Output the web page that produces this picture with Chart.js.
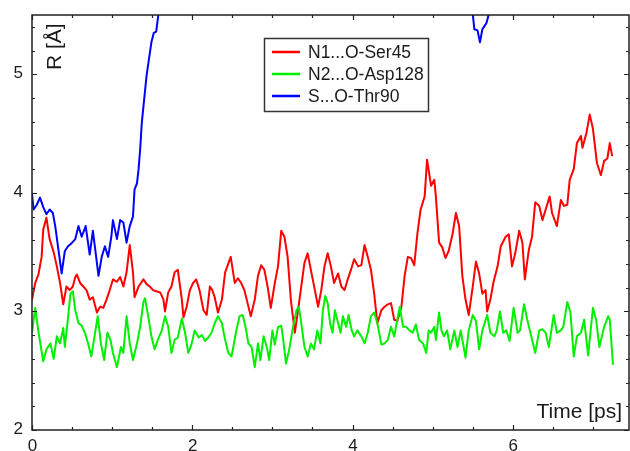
<!DOCTYPE html>
<html>
<head>
<meta charset="utf-8">
<script src="https://cdn.jsdelivr.net/npm/chart.js@4/dist/chart.umd.min.js"></script>
<style>
html,body{margin:0;padding:0;background:#fff;overflow:hidden;}
#wrap{width:630px;height:451px;position:relative;}
</style>
</head>
<body>
<div id="wrap"><canvas id="c" width="630" height="451"></canvas></div>
<script>
// ---------- data ----------
const seriesLabels = ['N1...O-Ser45', 'N2...O-Asp128', 'S...O-Thr90'];
const seriesColors = ['#ff0000', '#00f000', '#0000ff'];

const xMajorTicks = [0, 2, 4, 6];
const yMajorTicks = [2, 3, 4, 5];
const xTitle = 'Time [ps]';
const yTitle = 'R [Å]';

const redTime = [
 0.00,0.04,0.08,0.12,0.14,0.18,0.22,0.27,0.31,0.35,
 0.39,0.43,0.47,0.51,0.54,0.56,0.60,0.64,0.68,0.72,
 0.76,0.81,0.85,0.89,0.93,0.97,1.01,1.06,1.10,1.14,
 1.18,1.22,1.26,1.28,1.33,1.39,1.43,1.47,1.51,1.55,
 1.60,1.64,1.66,1.70,1.74,1.78,1.82,1.87,1.89,1.93,
 1.97,2.01,2.05,2.09,2.14,2.18,2.22,2.25,2.28,2.32,
 2.37,2.41,
 2.48,2.53,2.57,2.61,2.65,2.69,2.73,2.78,2.82,2.86,
 2.90,2.94,2.98,3.03,3.07,3.11,3.15,3.19,3.23,3.28,
 3.32,3.36,3.40,3.44,3.48,3.53,3.57,3.61,3.65,3.69,
 3.73,3.77,3.82,3.86,3.90,3.94,3.98,4.02,4.07,4.11,
 4.15,4.19,4.23,4.27,4.31,4.36,4.40,4.44,4.48,4.52,
 4.56,4.61,4.65,4.69,4.73,4.77,4.81,4.85,4.90,
 4.93,4.98,5.02,5.04,5.08,5.12,5.16,5.20,5.25,5.29,
 5.33,5.37,5.41,5.45,5.50,5.54,5.58,5.62,5.66,5.68,
 5.72,5.76,5.81,5.85,5.91,5.95,5.99,6.03,6.08,6.12,
 6.15,6.20,6.24,6.28,6.33,6.37,6.41,6.46,6.49,6.55,
 6.60,6.64,6.68,6.71,6.76,6.80,6.85,6.87,6.92,6.96,
 7.00,7.05,7.10,7.14,7.18,7.21,7.24
];
const redR = [
 3.10,3.24,3.31,3.46,3.69,3.79,3.61,3.50,3.38,3.24,
 3.06,3.21,3.18,3.21,3.29,3.31,3.24,3.21,3.18,3.10,
 3.12,2.99,3.04,3.03,3.10,3.18,3.27,3.25,3.29,3.21,
 3.33,3.56,3.33,3.12,3.21,3.27,3.23,3.21,3.18,3.17,
 3.16,3.10,3.00,3.16,3.21,3.33,3.35,3.10,2.95,3.04,
 3.18,3.24,3.27,3.18,3.01,2.97,3.21,3.18,3.12,2.99,
 3.10,3.33,
 3.46,3.24,3.28,3.24,3.18,3.07,2.96,3.10,3.30,3.39,
 3.35,3.21,3.03,3.24,3.38,3.68,3.63,3.46,3.10,2.82,
 3.01,3.21,3.41,3.49,3.35,3.18,3.04,3.18,3.38,3.49,
 3.38,3.24,3.32,3.21,3.18,3.27,3.35,3.44,3.38,3.39,
 3.56,3.46,3.35,3.15,2.90,3.01,3.04,3.06,3.07,2.93,
 2.92,3.04,3.30,3.46,3.45,3.39,3.66,3.86,3.97,
 4.28,4.06,4.11,3.97,3.58,3.54,3.45,3.51,3.66,3.83,
 3.72,3.30,3.10,2.97,3.21,3.42,3.32,3.15,3.18,3.00,
 3.10,3.25,3.38,3.55,3.63,3.65,3.38,3.49,3.68,3.58,
 3.27,3.52,3.63,3.92,3.89,3.77,3.86,3.97,3.83,3.72,
 3.94,3.89,3.90,4.11,4.20,4.42,4.48,4.38,4.51,4.66,
 4.54,4.25,4.15,4.27,4.29,4.42,4.31
];

const greenTime = [
 0.00,0.04,0.08,0.14,0.18,0.23,0.27,0.31,0.35,0.39,
 0.41,0.45,0.48,0.51,0.54,0.58,0.62,0.66,0.70,0.74,
 0.78,0.82,0.86,0.90,0.94,0.98,1.01,1.06,1.11,1.14,
 1.18,1.22,1.26,1.31,1.35,1.39,1.41,1.45,1.49,1.53,
 1.57,1.62,1.66,1.70,1.74,1.78,1.82,1.87,1.91,1.95,
 1.99,2.03,2.08,2.12,2.16,2.20,2.24,2.28,2.32,2.37,
 2.41,2.45,
 2.49,2.55,2.59,2.63,2.67,2.70,2.74,2.78,2.82,2.85,
 2.89,2.93,2.96,3.00,3.03,3.07,3.11,3.13,3.17,3.21,
 3.25,3.30,3.33,3.36,3.40,3.44,3.48,3.52,3.56,3.60,
 3.63,3.66,3.69,3.72,3.75,3.78,3.82,3.85,3.88,3.92,
 3.95,3.99,4.02,4.06,4.11,4.15,4.19,4.23,4.27,4.31,
 4.36,4.40,4.44,4.48,4.52,4.55,4.59,4.63,4.67,4.71,
 4.75,4.79,4.83,4.88,4.92,
 4.95,4.98,5.02,5.04,5.08,5.11,5.14,5.18,5.22,5.27,
 5.31,5.35,5.41,5.45,5.50,5.54,5.58,5.62,5.68,5.72,
 5.77,5.80,5.84,5.88,5.92,5.96,6.01,6.06,6.09,6.14,
 6.18,6.22,6.28,6.33,6.37,6.41,6.45,6.51,6.55,6.60,
 6.63,6.68,6.72,6.76,6.80,6.85,6.89,6.94,7.00,7.04,
 7.08,7.14,7.19,7.21,7.25
];
const greenR = [
 2.82,3.03,2.83,2.58,2.68,2.73,2.60,2.79,2.73,2.86,
 2.70,2.95,3.15,3.17,3.01,2.90,2.88,2.82,2.73,2.62,
 2.79,2.96,2.73,2.59,2.82,2.76,2.65,2.53,2.70,2.65,
 2.96,2.73,2.59,2.73,2.87,3.08,3.11,2.96,2.79,2.68,
 2.76,2.84,2.96,2.87,2.65,2.76,2.78,2.94,2.82,2.65,
 2.72,2.84,2.78,2.80,2.75,2.78,2.82,2.90,2.96,2.90,
 2.76,2.65,
 2.62,2.84,2.96,2.97,2.85,2.73,2.70,2.53,2.73,2.59,
 2.79,2.70,2.59,2.84,2.72,2.87,2.88,2.79,2.56,2.68,
 2.84,3.01,3.04,2.90,2.70,2.62,2.73,2.68,2.84,2.73,
 3.01,3.13,3.07,2.90,2.82,3.01,2.90,2.82,2.96,2.87,
 2.97,2.84,2.79,2.84,2.79,2.73,2.82,2.96,2.99,2.90,
 2.72,2.73,2.76,2.87,2.79,2.90,3.04,2.87,2.87,2.84,
 2.82,2.89,2.76,2.73,2.65,
 2.84,2.82,2.87,2.76,2.99,2.84,2.79,2.84,2.68,2.84,
 2.70,2.84,2.61,2.84,2.97,2.92,2.68,2.84,2.97,2.82,
 2.79,2.84,3.00,2.82,2.84,2.75,3.03,2.82,2.84,3.06,
 2.93,2.82,2.65,2.84,2.85,2.82,2.70,2.97,2.82,2.84,
 2.87,3.08,2.99,2.62,2.79,2.82,2.93,2.63,3.03,2.93,
 2.70,2.87,2.96,2.93,2.55
];

const blueTime = [
 0.00,0.02,0.06,0.10,0.14,0.18,0.22,0.26,0.29,0.33,
 0.37,0.41,0.45,0.50,0.54,0.58,0.62,0.67,0.72,0.76,
 0.83,0.87,0.91,0.95,0.99,1.01,1.06,1.10,1.14,1.18,
 1.22,1.26,1.28,1.31,1.33,1.35,1.37,1.43,1.49,1.52,
 1.55,1.58,1.62,
 3.50,
 5.47,5.50,5.52,5.56,5.59,5.62,5.65,5.67,5.69,5.71,5.74
];
const blueR = [
 3.99,3.86,3.90,3.96,3.88,3.82,3.86,3.83,3.72,3.52,
 3.32,3.51,3.55,3.58,3.61,3.72,3.63,3.72,3.48,3.68,
 3.30,3.46,3.55,3.46,3.63,3.77,3.61,3.77,3.75,3.58,
 3.72,3.80,4.03,4.08,4.20,4.37,4.59,4.99,5.27,5.35,
 5.36,5.52,5.75,
 null,
 5.80,5.51,5.38,5.37,5.27,5.38,5.41,5.43,5.48,5.53,5.80
];

// ---------- helpers ----------
function toPoints(ts, rs) { return ts.map((t, i) => ({ x: t, y: rs[i] })); }

const FONT = '"Liberation Sans", Arial, Helvetica, sans-serif';
const AXIS_COLOR = '#222';
const TEXT_COLOR = '#1a1a1a';

const framePlugin = {
  id: 'frame',
  afterDraw(chart) {
    const { ctx, chartArea: a, scales } = chart;
    const xs = scales.x, ys = scales.y;
    ctx.save();
    // frame
    ctx.strokeStyle = AXIS_COLOR;
    ctx.lineWidth = 1.5;
    ctx.strokeRect(a.left, a.top, a.right - a.left, a.bottom - a.top);
    // x ticks (minor every 0.5, major every 2), bottom + top, pointing inward
    ctx.lineWidth = 1.2;
    ctx.beginPath();
    for (let i = 0; i * 0.5 <= xs.max + 1e-9; i++) {
      const v = i * 0.5;
      const px = Math.round(xs.getPixelForValue(v)) + 0.5;
      const len = (i % 4 === 0) ? 5 : 3;
      ctx.moveTo(px, a.bottom); ctx.lineTo(px, a.bottom - len);
      ctx.moveTo(px, a.top); ctx.lineTo(px, a.top + len);
    }
    // y ticks (minor every 0.2, major every 1), left + right
    for (let i = 0; ys.min + i * 0.2 <= ys.max + 1e-9; i++) {
      const v = ys.min + i * 0.2;
      const py = Math.round(ys.getPixelForValue(v)) + 0.5;
      const len = (i % 5 === 0) ? 5 : 3;
      ctx.moveTo(a.left, py); ctx.lineTo(a.left + len, py);
      ctx.moveTo(a.right, py); ctx.lineTo(a.right - len, py);
    }
    ctx.stroke();

    // tick labels
    ctx.fillStyle = TEXT_COLOR;
    ctx.font = '17px ' + FONT;
    ctx.textAlign = 'right';
    ctx.textBaseline = 'middle';
    yMajorTicks.forEach(v => {
      ctx.fillText(String(v), a.left - 9, ys.getPixelForValue(v) - 1);
    });
    ctx.textAlign = 'center';
    ctx.textBaseline = 'top';
    xMajorTicks.forEach(v => {
      ctx.fillText(String(v), xs.getPixelForValue(v) + 0.5, a.bottom + 8);
    });

    // axis titles (inside the plot)
    ctx.font = '21px ' + FONT;
    ctx.textAlign = 'right';
    ctx.textBaseline = 'alphabetic';
    ctx.fillText(xTitle, a.right - 7, a.bottom - 12);
    ctx.save();
    ctx.translate(a.left + 29, a.top + 55);
    ctx.rotate(-Math.PI / 2);
    ctx.textAlign = 'left';
    ctx.fillText(yTitle, 0, 0);
    ctx.restore();

    // legend box
    const lx = 264, ly = 38, lw = 164, lh = 73;
    ctx.fillStyle = '#fff';
    ctx.fillRect(lx, ly, lw, lh);
    ctx.strokeStyle = '#333';
    ctx.lineWidth = 1.5;
    ctx.strokeRect(lx + 0.5, ly + 0.5, lw, lh);
    ctx.font = '17.5px ' + FONT;
    ctx.textAlign = 'left';
    ctx.textBaseline = 'middle';
    chart.data.datasets.forEach((ds, i) => {
      const y = ly + 14 + i * 22;
      ctx.strokeStyle = ds.borderColor;
      ctx.lineWidth = 2.5;
      ctx.beginPath();
      ctx.moveTo(lx + 8, y); ctx.lineTo(lx + 36, y);
      ctx.stroke();
      ctx.fillStyle = TEXT_COLOR;
      ctx.fillText(ds.label, lx + 44, y + 1);
    });
    ctx.restore();
  }
};

new Chart(document.getElementById('c'), {
  type: 'line',
  data: {
    datasets: [
      { label: seriesLabels[0], data: toPoints(redTime, redR), borderColor: seriesColors[0], order: 3 },
      { label: seriesLabels[1], data: toPoints(greenTime, greenR), borderColor: seriesColors[1], order: 2 },
      { label: seriesLabels[2], data: toPoints(blueTime, blueR), borderColor: seriesColors[2], order: 1, spanGaps: false }
    ]
  },
  options: {
    responsive: false,
    animation: false,
    devicePixelRatio: 1,
    layout: { padding: { left: 32, top: 15, right: 1, bottom: 21 } },
    elements: {
      point: { radius: 0, hoverRadius: 0 },
      line: { tension: 0, borderWidth: 2, fill: false, borderJoinStyle: 'round' }
    },
    scales: {
      x: { type: 'linear', min: 0, max: 7.45, display: false },
      y: { type: 'linear', min: 2, max: 5.5, display: false }
    },
    plugins: {
      legend: { display: false },
      tooltip: { enabled: false }
    }
  },
  plugins: [framePlugin]
});
</script>
</body>
</html>
